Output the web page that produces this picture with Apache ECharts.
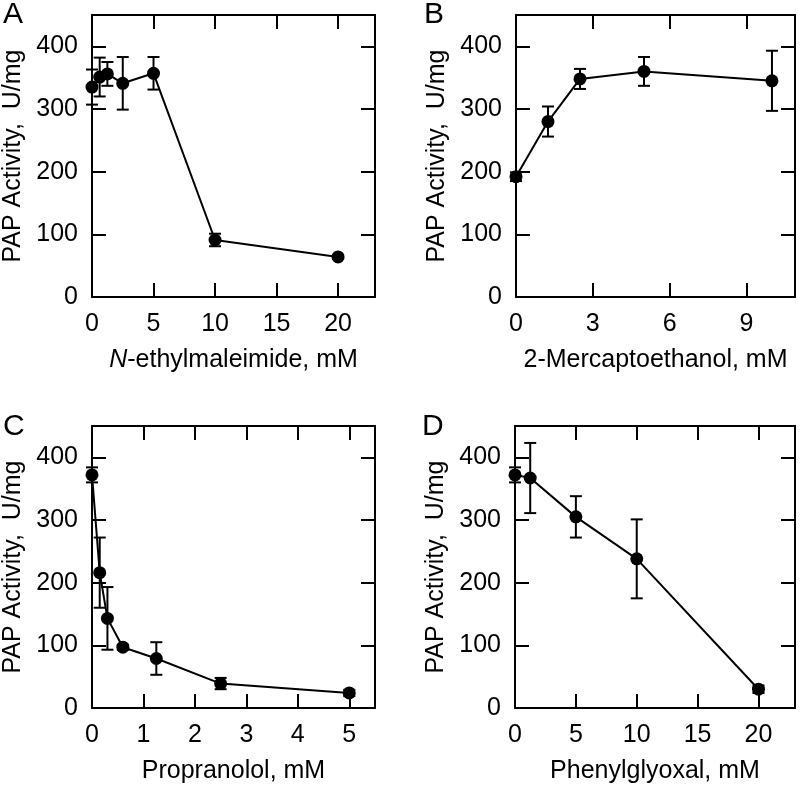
<!DOCTYPE html>
<html>
<head>
<meta charset="utf-8">
<script src="https://cdn.jsdelivr.net/npm/echarts@6/dist/echarts.min.js"></script>
<style>
html,body{margin:0;padding:0;background:#fff;}
#main{width:801px;height:787px;}
</style>
</head>
<body>
<div id="main"></div>
<script>
// Panel A: N-ethylmaleimide
var xA = [0, 0.625, 1.25, 2.5, 5, 10, 20];
var yA = [335, 351, 356, 341, 357, 91, 64];
var eA = [28, 31, 19, 42, 26, 10, 3];
// Panel B: 2-Mercaptoethanol
var xB = [0, 1.25, 2.5, 5, 10];
var yB = [192, 280, 348, 360, 345];
var eB = [7, 24, 16, 23, 48];
// Panel C: Propranolol
var xC = [0, 0.15, 0.3, 0.6, 1.25, 2.5, 5];
var yC = [372, 216, 143, 97, 79, 39, 24];
var eC = [12, 56, 50, 4, 26, 9, 5];
// Panel D: Phenylglyoxal
var xD = [0, 1.25, 5, 10, 20];
var yD = [372, 367, 305, 238, 30];
var eD = [12, 56, 33, 63, 6];

var panelLetters = ['A', 'B', 'C', 'D'];
var xNames = ['{i|N}-ethylmaleimide, mM', '2-Mercaptoethanol, mM', 'Propranolol, mM', 'Phenylglyoxal, mM'];
var yName = 'PAP Activity,  U/mg';
var xMax = [23, 10.9, 5.5, 23];
var xInterval = [5, 3, 1, 5];
var yTicksMax = 450;
var yInterval = 100;

var FONT = '"Liberation Sans", Arial, sans-serif';
var FS = 25;
var panels = [
  {x: xA, y: yA, e: eA},
  {x: xB, y: yB, e: eB},
  {x: xC, y: yC, e: eC},
  {x: xD, y: yD, e: eD}
];
var grids = [
  {left: 92, top: 15, width: 283, height: 282},
  {left: 516, top: 15, width: 279, height: 282},
  {left: 92, top: 426, width: 283, height: 282},
  {left: 515, top: 426, width: 280, height: 282}
];
var letterPos = [[3, 0], [424, 0], [3, 412], [422, 412]];

function fmt(interval) {
  return function (v) {
    var r = v / interval;
    return Math.abs(r - Math.round(r)) < 1e-6 ? String(v) : '';
  };
}

var xAxes = [], yAxes = [], series = [], graphics = [];
var lineStyleAx = {color: '#000', width: 2};
for (var i = 0; i < 4; i++) {
  var common = {
    gridIndex: i, type: 'value', min: 0, max: xMax[i], interval: xInterval[i],
    axisLine: {show: true, onZero: false, lineStyle: lineStyleAx},
    axisTick: {show: true, inside: true, length: 14, lineStyle: lineStyleAx},
    splitLine: {show: false}
  };
  xAxes.push(Object.assign({}, common, {
    position: 'bottom',
    name: xNames[i], nameLocation: 'middle', nameGap: 51,
    nameTextStyle: {fontFamily: FONT, fontSize: FS, color: '#000',
      rich: {i: {fontStyle: 'italic', fontFamily: FONT, fontSize: FS, color: '#000'}}},
    axisLabel: {show: true, inside: false, margin: 15, fontFamily: FONT, fontSize: FS, color: '#000',
      showMaxLabel: false, formatter: fmt(xInterval[i])}
  }));
  xAxes.push(Object.assign({}, common, {position: 'top', axisLabel: {show: false}}));
  var ycommon = {
    gridIndex: i, type: 'value', min: 0, max: yTicksMax, interval: yInterval,
    axisLine: {show: true, onZero: false, lineStyle: lineStyleAx},
    axisTick: {show: true, inside: true, length: 14, lineStyle: lineStyleAx},
    splitLine: {show: false}
  };
  yAxes.push(Object.assign({}, ycommon, {
    position: 'left',
    name: yName, nameLocation: 'middle', nameGap: 66,
    nameTextStyle: {fontFamily: FONT, fontSize: FS, color: '#000'},
    axisLabel: {show: true, margin: 14, fontFamily: FONT, fontSize: FS, color: '#000',
      showMaxLabel: false, formatter: fmt(yInterval)}
  }));
  yAxes.push(Object.assign({}, ycommon, {position: 'right', axisLabel: {show: false}}));

  var p = panels[i];
  var pts = [], errs = [];
  for (var k = 0; k < p.x.length; k++) {
    pts.push([p.x[k], p.y[k]]);
    errs.push([p.x[k], p.y[k] - p.e[k], p.y[k] + p.e[k]]);
  }
  series.push({
    type: 'custom', xAxisIndex: 2 * i, yAxisIndex: 2 * i, data: errs, z: 2, clip: false,
    renderItem: function (params, api) {
      var lo = api.coord([api.value(0), api.value(1)]);
      var hi = api.coord([api.value(0), api.value(2)]);
      var hw = 6;
      var st = {stroke: '#000', lineWidth: 2};
      return {type: 'group', children: [
        {type: 'line', shape: {x1: lo[0], y1: lo[1], x2: hi[0], y2: hi[1]}, style: st},
        {type: 'line', shape: {x1: lo[0] - hw, y1: lo[1], x2: lo[0] + hw, y2: lo[1]}, style: st},
        {type: 'line', shape: {x1: hi[0] - hw, y1: hi[1], x2: hi[0] + hw, y2: hi[1]}, style: st}
      ]};
    }
  });
  series.push({
    type: 'line', xAxisIndex: 2 * i, yAxisIndex: 2 * i, data: pts, z: 3,
    symbol: 'circle', symbolSize: 13, showSymbol: true, clip: false,
    lineStyle: {color: '#000', width: 2}, itemStyle: {color: '#000'}
  });
  graphics.push({type: 'text', left: letterPos[i][0], top: letterPos[i][1],
    style: {text: panelLetters[i], fontFamily: FONT, fontSize: 30, fill: '#000'}});
}

var chart = echarts.init(document.getElementById('main'), null, {renderer: 'canvas'});
chart.setOption({
  animation: false,
  backgroundColor: '#fff',
  grid: grids,
  xAxis: xAxes,
  yAxis: yAxes,
  series: series,
  graphic: graphics
});
</script>
</body>
</html>
